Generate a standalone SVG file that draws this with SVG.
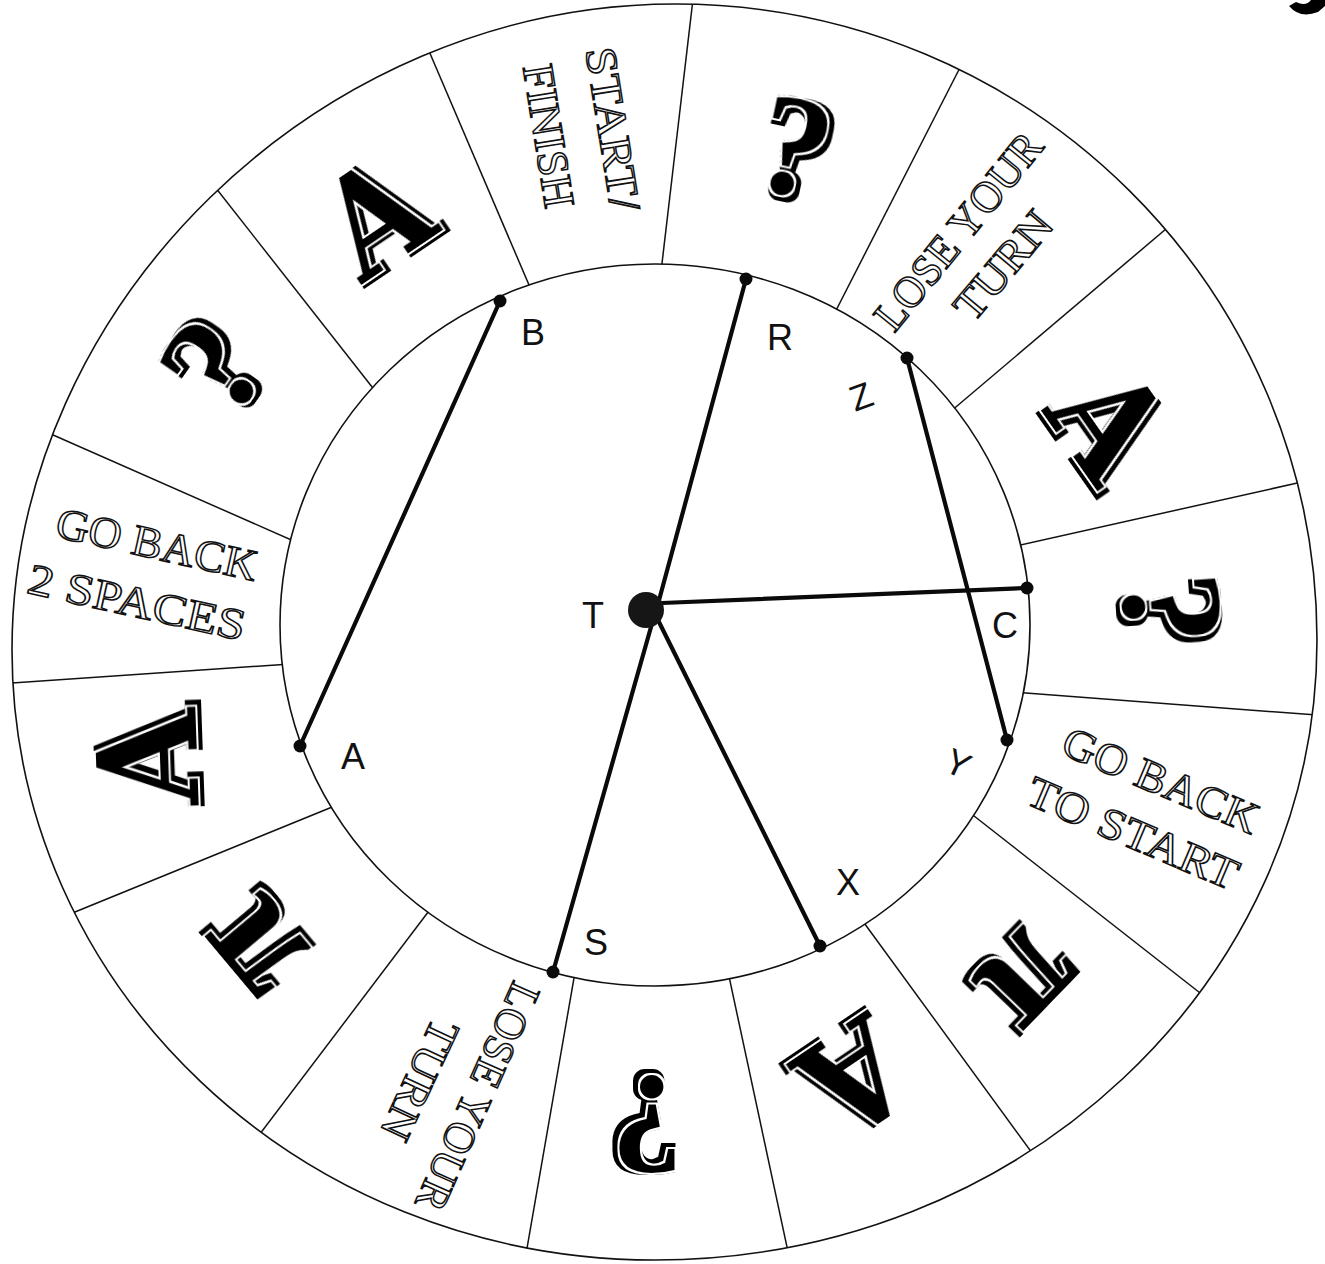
<svg xmlns="http://www.w3.org/2000/svg" width="1325" height="1264" viewBox="0 0 1325 1264">
<defs>
<style>
.ring{fill:none;stroke:#111;stroke-width:1.6}
.div{stroke:#111;stroke-width:1.5;fill:none}
.con{stroke:#0a0a0a;stroke-width:4.2;stroke-linecap:round;fill:none}
.dot{fill:#0a0a0a}
.pt{font-family:"Liberation Sans",Arial,sans-serif;font-size:36px;fill:#111;text-anchor:middle}
.lbl{font-family:"Liberation Serif","DejaVu Serif",serif;font-size:44px;fill:#fff;stroke:#111;stroke-width:1.5;text-anchor:middle}
.q{font-family:"Liberation Serif","DejaVu Serif",serif;font-weight:bold;font-size:145px;fill:#000;text-anchor:middle;filter:url(#sh)}
.aa{font-family:"DejaVu Serif","Liberation Serif",serif;font-stretch:condensed;font-weight:bold;font-size:138px;fill:#000;text-anchor:middle;filter:url(#sh)}
.pi{font-family:"Liberation Serif","DejaVu Serif",serif;font-weight:bold;font-size:160px;fill:#000;text-anchor:middle;filter:url(#sh)}
</style>
<filter id="sh" x="-30%" y="-30%" width="160%" height="160%">
<feMorphology in="SourceAlpha" operator="dilate" radius="2" result="a"/>
<feMorphology in="SourceAlpha" operator="dilate" radius="3.5" result="b"/>
<feOffset in="b" dx="3" dy="2" result="bo"/>
<feComposite in="bo" in2="a" operator="out" result="ringfx"/>
<feMerge><feMergeNode in="ringfx"/><feMergeNode in="SourceGraphic"/></feMerge>
</filter>
<clipPath id="ringclip">
<path clip-rule="evenodd" d="M675,4 C1030,4 1317,289 1317,640 C1317,982 1021,1260 655,1260 C300,1260 12,987 12,650 C12,304 320,4 675,4 Z M280,625 A375,361 0 1,0 1030,625 A375,361 0 1,0 280,625 Z"/>
</clipPath>
</defs>
<rect x="0" y="0" width="1325" height="1264" fill="#fff"/>

<g id="board">
<path class="ring" d="M675,4 C1030,4 1317,289 1317,640 C1317,982 1021,1260 655,1260 C300,1260 12,987 12,650 C12,304 320,4 675,4 Z"/>
<ellipse class="ring" cx="655" cy="625" rx="375" ry="361"/>
<g id="dividers" clip-path="url(#ringclip)">
<line class="div" x1="538" y1="306" x2="420" y2="30"/>
<line class="div" x1="659" y1="289" x2="695" y2="-18"/>
<line class="div" x1="826" y1="330" x2="969" y2="50"/>
<line class="div" x1="937" y1="423" x2="1186" y2="212"/>
<line class="div" x1="1003" y1="549" x2="1324" y2="477"/>
<line class="div" x1="998" y1="691" x2="1342" y2="717"/>
<line class="div" x1="960" y1="805" x2="1218" y2="1007"/>
<line class="div" x1="851" y1="905" x2="1046" y2="1172"/>
<line class="div" x1="724" y1="953" x2="793" y2="1275"/>
<line class="div" x1="578" y1="955" x2="522" y2="1277"/>
<line class="div" x1="438" y1="899" x2="247" y2="1151"/>
<line class="div" x1="342" y1="803" x2="48" y2="923"/>
<line class="div" x1="305" y1="663" x2="-19" y2="685"/>
<line class="div" x1="305" y1="546" x2="26" y2="423"/>
<line class="div" x1="387" y1="406" x2="208" y2="178"/>
</g>
<path d="M1289,6 Q1300,19 1318,12 L1325,6 L1325,0 L1311,0 Q1306,7 1296,2 Z" fill="#000"/>
</g>

<g id="seg-start"><text class="lbl" transform="translate(613,129) rotate(81)" y="15" textLength="165" lengthAdjust="spacingAndGlyphs">START/</text><text class="lbl" transform="translate(549,136) rotate(81)" y="15" textLength="145" lengthAdjust="spacingAndGlyphs">FINISH</text></g>
<g id="seg-q1"><text class="q" transform="translate(795,146) rotate(12)" y="49">?</text></g>
<g id="seg-lose1"><text class="lbl" transform="translate(958,231) rotate(-51)" y="15" textLength="240" lengthAdjust="spacingAndGlyphs">LOSE YOUR</text><text class="lbl" transform="translate(1003,265) rotate(-50)" y="15" textLength="128" lengthAdjust="spacingAndGlyphs">TURN</text></g>
<g id="seg-a1"><text class="aa" transform="translate(1110,422) rotate(55)" y="50">A</text></g>
<g id="seg-q2"><text class="q" transform="translate(1173,609) rotate(86)" y="49">?</text></g>
<g id="seg-gbs"><text class="lbl" transform="translate(1161,780) rotate(23)" y="15" textLength="209" lengthAdjust="spacingAndGlyphs">GO BACK</text><text class="lbl" transform="translate(1133,833) rotate(23)" y="15" textLength="225" lengthAdjust="spacingAndGlyphs">TO START</text></g>
<g id="seg-pi1"><text class="pi" transform="translate(1026,975) rotate(134)" y="37">π</text></g>
<g id="seg-a2"><text class="aa" transform="translate(855,1078) rotate(146)" y="50">A</text></g>
<g id="seg-q3"><text class="q" transform="translate(647,1126) rotate(180)" y="49">?</text></g>
<g id="seg-lose2"><text class="lbl" transform="translate(478,1097) rotate(114)" y="15" textLength="245" lengthAdjust="spacingAndGlyphs">LOSE YOUR</text><text class="lbl" transform="translate(420,1080) rotate(115)" y="15" textLength="128" lengthAdjust="spacingAndGlyphs">TURN</text></g>
<g id="seg-pi2"><text class="pi" transform="translate(260,945) rotate(230)" y="37">π</text></g>
<g id="seg-a3"><text class="aa" transform="translate(147,758) rotate(-92)" y="50">A</text></g>
<g id="seg-gb2"><text class="lbl" transform="translate(157,544) rotate(12.5)" y="15" textLength="205" lengthAdjust="spacingAndGlyphs">GO BACK</text><text class="lbl" transform="translate(137,602) rotate(12.5)" y="15" textLength="222" lengthAdjust="spacingAndGlyphs">2 SPACES</text></g>
<g id="seg-q4"><text class="q" transform="translate(212,365) rotate(-55)" y="49">?</text></g>
<g id="seg-a4"><text class="aa" transform="translate(374,216) rotate(-34)" y="50">A</text></g>

<g id="connectors">
<line class="con" x1="658" y1="604" x2="746" y2="279"/>
<line class="con" x1="662" y1="603" x2="1027" y2="588"/>
<line class="con" x1="653" y1="620" x2="553" y2="972"/>
<line class="con" x1="658" y1="620" x2="820" y2="946"/>
<line class="con" x1="300" y1="746" x2="500" y2="301"/>
<line class="con" x1="907" y1="358" x2="1007" y2="740"/>
</g>

<g id="node-T"><circle cx="646" cy="610" r="18" fill="#161616"/><text class="pt" x="593" y="628">T</text></g>
<g id="node-R"><circle class="dot" cx="746" cy="279" r="6.5"/><text class="pt" x="780" y="350">R</text></g>
<g id="node-B"><circle class="dot" cx="500" cy="301" r="6.5"/><text class="pt" x="533" y="345">B</text></g>
<g id="node-Z"><circle class="dot" cx="907" cy="358" r="6.5"/><text class="pt" transform="translate(861,396) rotate(-20)" y="13">Z</text></g>
<g id="node-C"><circle class="dot" cx="1027" cy="588" r="6.5"/><text class="pt" x="1005" y="638">C</text></g>
<g id="node-Y"><circle class="dot" cx="1007" cy="740" r="6.5"/><text class="pt" transform="translate(958,763) rotate(25)" y="13">Y</text></g>
<g id="node-X"><circle class="dot" cx="820" cy="946" r="6.5"/><text class="pt" x="848" y="895">X</text></g>
<g id="node-S"><circle class="dot" cx="553" cy="972" r="6.5"/><text class="pt" x="596" y="955">S</text></g>
<g id="node-A"><circle class="dot" cx="300" cy="746" r="6.5"/><text class="pt" x="353" y="769">A</text></g>
</svg>
